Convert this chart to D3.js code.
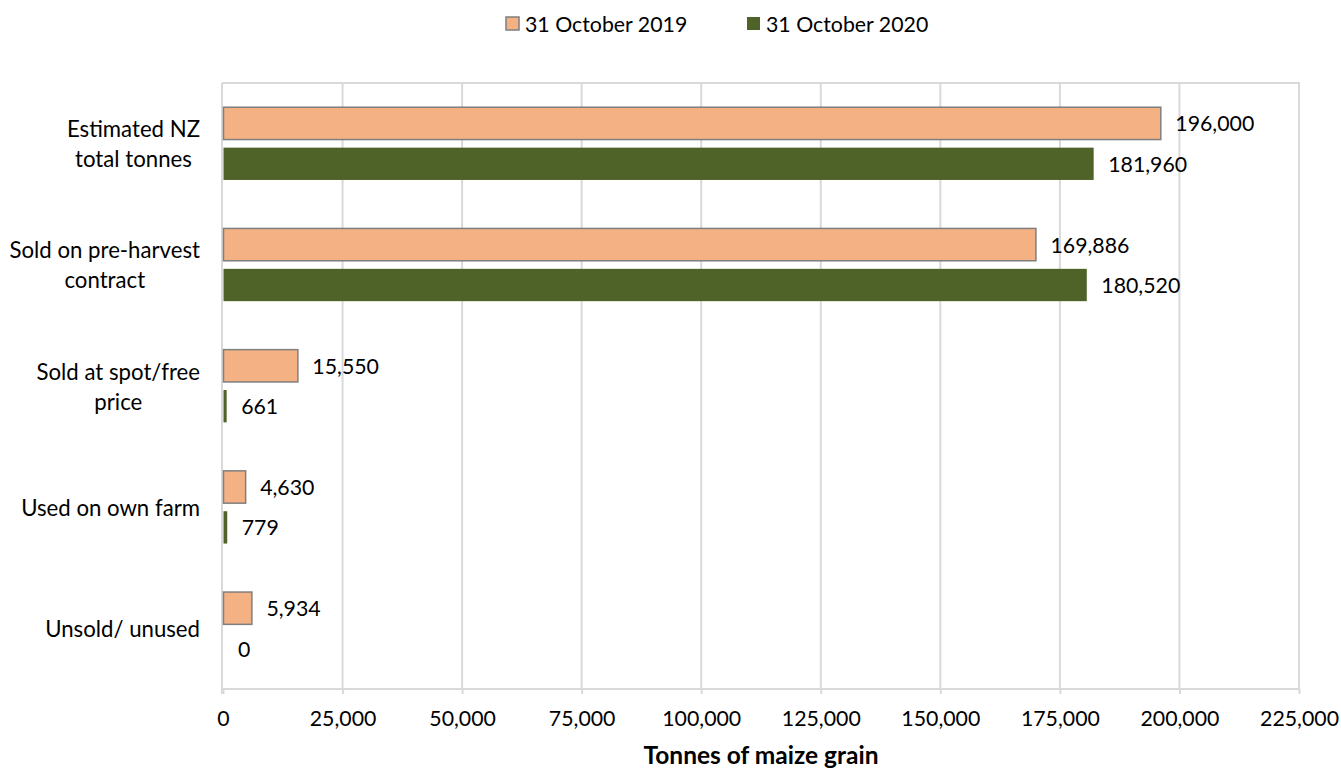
<!DOCTYPE html>
<html>
<head>
<meta charset="utf-8">
<script src="https://cdn.jsdelivr.net/npm/d3@7"></script>
<style>
  html, body { margin: 0; padding: 0; background: #fff; }
  svg { display: block; }
  text { font-family: Lato, "Open Sans", sans-serif; fill: #000; }
</style>
</head>
<body>
<svg id="chart" width="1341" height="769"></svg>
<script>
const categories = [
  "Estimated NZ\ntotal tonnes",
  "Sold on pre-harvest\ncontract",
  "Sold at spot/free\nprice",
  "Used on own farm",
  "Unsold/ unused"
];
const seriesNames = ["31 October 2019", "31 October 2020"];
const values2019 = [196000, 169886, 15550, 4630, 5934];
const values2020 = [181960, 180520, 661, 779, 0];
const xTicks = [0, 25000, 50000, 75000, 100000, 125000, 150000, 175000, 200000, 225000];
const xTitle = "Tonnes of maize grain";

const colors = ["#F4B183", "#4F6228"];
const strokes = ["#7F7F7F", "none"];
const FS = 21.3;
const FS_CAT = 22.2;

const svg = d3.select("#chart");
const pLeft = 223, pRight = 1299, pTop = 83, pBottom = 689;

const x = d3.scaleLinear().domain([0, 225000]).range([pLeft, pRight]);
const y = d3.scaleBand().domain(categories).range([pTop, pBottom]).paddingInner(0.4).paddingOuter(0.2);
const yInner = d3.scaleBand().domain(seriesNames).range([0, y.bandwidth()]).paddingInner(0.2);

const fmt = d3.format(",");

// gridlines
svg.append("g").selectAll("line").data(xTicks.slice(1)).join("line")
  .attr("x1", d => x(d)).attr("x2", d => x(d))
  .attr("y1", pTop).attr("y2", pBottom)
  .attr("stroke", "#D9D9D9").attr("stroke-width", 2);
// top border
svg.append("line").attr("x1", pLeft - 1).attr("x2", pRight + 1).attr("y1", pTop).attr("y2", pTop)
  .attr("stroke", "#D9D9D9").attr("stroke-width", 2);
// left axis line
svg.append("line").attr("x1", pLeft - 1).attr("x2", pLeft - 1).attr("y1", pTop).attr("y2", pBottom + 5)
  .attr("stroke", "#D9D9D9").attr("stroke-width", 2);

// x axis
const xAxis = d3.axisBottom(x).tickValues(xTicks).tickFormat(d => fmt(d)).tickSize(5).tickPadding(17);
const gx = svg.append("g").attr("transform", `translate(0,${pBottom})`).call(xAxis);
gx.select(".domain").attr("stroke", "#D9D9D9").attr("stroke-width", 2).attr("d", `M${pLeft - 2},0H${pRight + 1}`);
gx.selectAll(".tick line").attr("stroke", "#D9D9D9").attr("stroke-width", 2);
gx.selectAll(".tick text").attr("font-size", FS).attr("font-family", "Lato, 'Open Sans', sans-serif").attr("fill", "#000");

// bars
const data = categories.map((c, i) => ({ cat: c, vals: [values2019[i], values2020[i]] }));
const groups = svg.append("g").selectAll("g").data(data).join("g")
  .attr("transform", d => `translate(0,${y(d.cat)})`);

groups.each(function(d) {
  const g = d3.select(this);
  d.vals.forEach((v, si) => {
    const yy = yInner(seriesNames[si]);
    const h = yInner.bandwidth();
    if (v > 0) {
      g.append("rect")
        .attr("x", x(0) + 0.5).attr("y", yy)
        .attr("width", Math.max(x(v) - x(0), 0)).attr("height", h)
        .attr("fill", colors[si])
        .attr("stroke", strokes[si]).attr("stroke-width", 1.5);
    }
    g.append("text")
      .attr("x", x(v) + 15).attr("y", yy + h / 2)
      .attr("dominant-baseline", "central")
      .attr("font-size", FS)
      .text(fmt(v));
  });
});

// category labels (multiline, centred lines, right edge at x=200)
const labelRight = 200;
const lineH = 30;
categories.forEach(c => {
  const lines = c.split("\n");
  const cy = y(c) + y.bandwidth() / 2;
  const g = svg.append("g");
  const texts = lines.map((ln, i) => g.append("text")
    .attr("font-size", FS_CAT)
    .attr("text-anchor", "middle")
    .attr("dominant-baseline", "central")
    .attr("y", cy + (i - (lines.length - 1) / 2) * lineH)
    .text(ln));
  const maxW = d3.max(texts, t => t.node().getComputedTextLength());
  texts.forEach(t => t.attr("x", labelRight - maxW / 2));
});

// axis title
svg.append("text")
  .attr("x", (pLeft + pRight) / 2).attr("y", 764)
  .attr("text-anchor", "middle")
  .attr("font-size", 24.5).attr("font-weight", "bold")
  .text(xTitle);

// legend
const legendItems = [{ x: 506, name: seriesNames[0], i: 0 }, { x: 747, name: seriesNames[1], i: 1 }];
legendItems.forEach(it => {
  svg.append("rect").attr("x", it.x).attr("y", 17).attr("width", 13).attr("height", 13)
    .attr("fill", colors[it.i]).attr("stroke", it.i === 0 ? "#7F7F7F" : "none").attr("stroke-width", 1.5);
  svg.append("text").attr("x", it.x + 19).attr("y", 24)
    .attr("dominant-baseline", "central").attr("font-size", FS).text(it.name);
});
</script>
</body>
</html>
